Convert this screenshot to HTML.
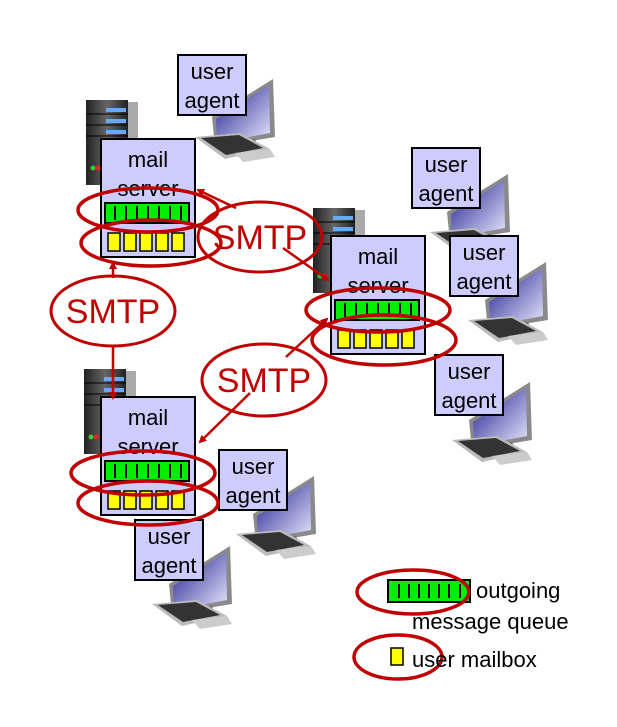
<!DOCTYPE html>
<html><head><meta charset="utf-8"><style>
html,body{margin:0;padding:0;background:#fff}
svg{display:block}
text{font-family:"Liberation Sans",Calibri,sans-serif}
</style></head><body>
<svg width="617" height="727" viewBox="0 0 617 727" xmlns="http://www.w3.org/2000/svg">
<defs>
<linearGradient id="tw" x1="0" x2="1"><stop offset="0" stop-color="#222"/><stop offset="0.5" stop-color="#666"/><stop offset="1" stop-color="#222"/></linearGradient>
<linearGradient id="scr" x1="0" y1="0" x2="1" y2="1"><stop offset="0" stop-color="#1a1a8a"/><stop offset="1" stop-color="#e8e8ff"/></linearGradient>
<g id="tower">
<rect x="0" y="0" width="42" height="85" fill="url(#tw)"/>
<rect x="42" y="2" width="10" height="80" fill="#aaa"/>
<rect x="20" y="8" width="20" height="4" fill="#6af"/>
<rect x="20" y="19" width="20" height="4" fill="#6af"/>
<rect x="20" y="30" width="20" height="4" fill="#6af"/>
<line x1="0" y1="14" x2="42" y2="14" stroke="#000"/>
<line x1="0" y1="25" x2="42" y2="25" stroke="#000"/>
<line x1="0" y1="36" x2="42" y2="36" stroke="#000"/>
<circle cx="7" cy="68" r="2.5" fill="#3c3"/><circle cx="12" cy="68" r="2.5" fill="#e22"/>
</g>
<g id="pc">
<polygon points="17,42 78,4 80,62 20,72" fill="#8a8a8a"/>
<polygon points="21,44 74,10 75,58 22,68" fill="url(#scr)"/>
<polygon points="42,66 60,64 64,74 46,76" fill="#666"/>
<polygon points="0,62 45,58 75,74 30,84" fill="#bbb"/>
<polygon points="6,63 44,60 68,73 31,80" fill="#333"/>
<polygon points="40,78 75,74 80,82 48,87" fill="#ccc"/>
</g>
<g id="srv">
<rect x="0" y="0" width="94" height="118" fill="#ccccff" stroke="#000" stroke-width="2"/>
<text x="47" y="28" font-size="22" text-anchor="middle">mail</text>
<text x="47" y="57" font-size="22" text-anchor="middle">server</text>
<rect x="4" y="64" width="84" height="20" fill="#00ee00" stroke="#000" stroke-width="2"/>
<g stroke="#000" stroke-width="2"><line x1="14" y1="67" x2="14" y2="81"/><line x1="25" y1="67" x2="25" y2="81"/><line x1="36" y1="67" x2="36" y2="81"/><line x1="47" y1="67" x2="47" y2="81"/><line x1="58" y1="67" x2="58" y2="81"/><line x1="69" y1="67" x2="69" y2="81"/><line x1="80" y1="67" x2="80" y2="81"/></g>
<g fill="#ffff00" stroke="#000" stroke-width="1.5"><rect x="7" y="94" width="12" height="18"/><rect x="23" y="94" width="12" height="18"/><rect x="39" y="94" width="12" height="18"/><rect x="55" y="94" width="12" height="18"/><rect x="71" y="94" width="12" height="18"/></g>
</g>
<g id="ua">
<rect x="0" y="0" width="68" height="60" fill="#ccccff" stroke="#000" stroke-width="2"/>
<text x="34" y="24" font-size="22" text-anchor="middle">user</text>
<text x="34" y="53" font-size="22" text-anchor="middle">agent</text>
</g>
<marker id="ah" markerWidth="8" markerHeight="8" refX="6" refY="4" orient="auto" markerUnits="userSpaceOnUse"><path d="M0,0 L8,4 L0,8 z" fill="#c00000"/></marker>
</defs>

<use href="#pc" x="195" y="75"/>
<use href="#pc" x="430" y="170"/>
<use href="#pc" x="468" y="258"/>
<use href="#pc" x="452" y="378"/>
<use href="#pc" x="236" y="472"/>
<use href="#pc" x="152" y="542"/>
<use href="#tower" x="86" y="100"/>
<use href="#tower" x="313" y="208"/>
<use href="#tower" x="84" y="369"/>
<use href="#ua" x="178" y="55"/>
<use href="#ua" x="412" y="148"/>
<use href="#ua" x="450" y="236"/>
<use href="#ua" x="435" y="355"/>
<use href="#ua" x="219" y="450"/>
<use href="#ua" x="135" y="520"/>
<use href="#srv" x="101" y="139"/>
<use href="#srv" x="331" y="236"/>
<use href="#srv" x="101" y="397"/>

<g fill="none" stroke="#c00000" stroke-width="3.5">
<ellipse cx="148" cy="210" rx="70" ry="22"/>
<ellipse cx="151" cy="243" rx="70" ry="23"/>
<ellipse cx="378" cy="310" rx="72" ry="22"/>
<ellipse cx="384" cy="340" rx="72" ry="25"/>
<ellipse cx="143" cy="473" rx="72" ry="22"/>
<ellipse cx="148" cy="503" rx="70" ry="22"/>
</g>
<g fill="none" stroke="#c00000" stroke-width="3">
<ellipse cx="260" cy="237" rx="62" ry="35"/>
<ellipse cx="113" cy="311" rx="62" ry="35"/>
<ellipse cx="264" cy="380" rx="62" ry="36"/>
</g>
<g stroke="#c00000" stroke-width="2.5" marker-end="url(#ah)">
<line x1="236" y1="208" x2="198" y2="190"/>
<line x1="283" y1="248" x2="328" y2="280"/>
<line x1="113" y1="278" x2="113" y2="263"/>
<line x1="113" y1="346" x2="113" y2="398"/>
<line x1="286" y1="357" x2="327" y2="319"/>
<line x1="250" y1="393" x2="200" y2="442"/>
</g>
<g fill="#c00000" font-size="34" text-anchor="middle">
<text x="260" y="249">SMTP</text>
<text x="113" y="323">SMTP</text>
<text x="264" y="392">SMTP</text>
</g>

<rect x="388" y="580" width="82" height="22" fill="#00ee00" stroke="#000" stroke-width="2"/>
<g stroke="#000" stroke-width="2"><line x1="399" y1="584" x2="399" y2="598"/><line x1="409" y1="584" x2="409" y2="598"/><line x1="419" y1="584" x2="419" y2="598"/><line x1="429" y1="584" x2="429" y2="598"/><line x1="439" y1="584" x2="439" y2="598"/><line x1="449" y1="584" x2="449" y2="598"/><line x1="460" y1="584" x2="460" y2="598"/></g>
<rect x="391" y="648" width="12" height="17" fill="#ffff00" stroke="#000" stroke-width="1.5"/>
<g fill="none" stroke="#c00000" stroke-width="3.5">
<ellipse cx="413" cy="592" rx="56" ry="22"/>
<ellipse cx="398" cy="657" rx="44" ry="22"/>
</g>
<g font-size="22" fill="#000">
<text x="476" y="598">outgoing</text>
<text x="412" y="629">message queue</text>
<text x="412" y="667">user mailbox</text>
</g>
</svg>
</body></html>
